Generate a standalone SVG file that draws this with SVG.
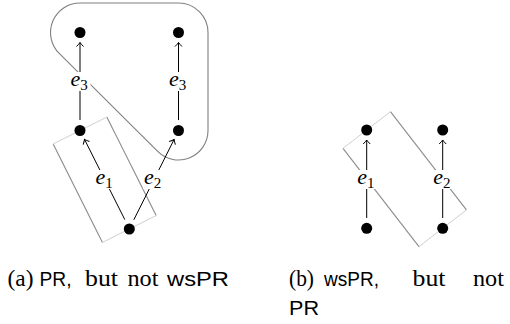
<svg xmlns="http://www.w3.org/2000/svg" width="510" height="324" viewBox="0 0 510 324">
<style>
.dot{fill:#000}
.edge{stroke:#000;stroke-width:1;fill:none;marker-end:url(#arr)}
.hull{stroke:#808080;stroke-width:1.1;fill:none}
.long{stroke:#8c8c8c;stroke-width:1.1}
.short{stroke:#d0d0d0;stroke-width:1}
.lbg{fill:#fff}
.lbl{font-family:"Liberation Serif",serif;font-style:italic;font-size:22px;fill:#000}
.sub{font-family:"Liberation Serif",serif;font-style:normal;font-size:15px}
.cap{font-family:"Liberation Serif",serif;font-size:22.5px;fill:#000}
.sf{font-family:"Liberation Sans",sans-serif;font-size:20px;fill:#000}
</style>
<defs>
<marker id="arr" viewBox="-6 -5 8 10" markerWidth="8" markerHeight="10" refX="0" refY="0" orient="auto" markerUnits="userSpaceOnUse">
<path d="M -4 -3.5 Q -1.5 -1 0 0 Q -1.5 1 -4 3.5" fill="none" stroke="#000" stroke-width="1"/>
</marker>
</defs>

<!-- (a) -->
<g id="hull-a">
<path class="hull" d="M 59.2 53.4 A 29.5 29.5 0 0 1 80 3 L 178.5 3 A 29.5 29.5 0 0 1 208 32.5 L 208 130.5 A 29.5 29.5 0 0 1 157.7 151.4 Z"/>
</g>
<g id="rect-a">
<line class="long" x1="106.83" y1="117.07" x2="156.13" y2="215.57"/>
<line class="long" x1="53.17" y1="143.93" x2="102.47" y2="242.43"/>
<line class="short" x1="53.17" y1="143.93" x2="106.83" y2="117.07"/>
<line class="short" x1="156.13" y1="215.57" x2="102.47" y2="242.43"/>
</g>

<g id="connectors">
<line class="edge" x1="80" y1="120" x2="80" y2="42.5"/>
<line class="edge" x1="178.5" y1="120" x2="178.5" y2="42.5"/>
<line class="edge" x1="124.8" y1="219.6" x2="84.5" y2="139.4"/>
<line class="edge" x1="133.8" y1="219.8" x2="174.1" y2="139.5"/>
<line class="edge" x1="366.7" y1="218" x2="366.7" y2="140"/>
<line class="edge" x1="442.7" y1="218" x2="442.7" y2="140"/>
</g>

<g id="labels">
<rect class="lbg" x="69.5" y="72" width="21" height="19"/>
<text class="lbl" x="70.5" y="85.5">e<tspan class="sub" dy="4">3</tspan></text>
<rect class="lbg" x="168" y="72" width="21" height="19"/>
<text class="lbl" x="169" y="85.5">e<tspan class="sub" dy="4">3</tspan></text>
<rect class="lbg" x="94.5" y="170" width="21" height="19"/>
<text class="lbl" x="95.5" y="183.5">e<tspan class="sub" dy="4">1</tspan></text>
<rect class="lbg" x="143" y="170" width="21" height="19"/>
<text class="lbl" x="144" y="183.5">e<tspan class="sub" dy="4">2</tspan></text>
</g>

<g id="n-a1"><circle class="dot" cx="80" cy="32.5" r="5.5"/></g>
<g id="n-a2"><circle class="dot" cx="178.5" cy="32.5" r="5.5"/></g>
<g id="n-a3"><circle class="dot" cx="80" cy="130.5" r="5.5"/></g>
<g id="n-a4"><circle class="dot" cx="178.5" cy="130.5" r="5.5"/></g>
<g id="n-a5"><circle class="dot" cx="129.3" cy="229" r="5.5"/></g>

<!-- (b) -->
<g id="rect-b">
<line class="long" x1="390.43" y1="111.65" x2="466.43" y2="209.95"/>
<line class="long" x1="342.97" y1="148.35" x2="418.97" y2="246.65"/>
<line class="short" x1="342.97" y1="148.35" x2="390.43" y2="111.65"/>
<line class="short" x1="466.43" y1="209.95" x2="418.97" y2="246.65"/>
</g>
<g id="labels-b">
<rect class="lbg" x="356.2" y="170" width="21" height="19"/>
<text class="lbl" x="357.2" y="183.5">e<tspan class="sub" dy="4">1</tspan></text>
<rect class="lbg" x="432.2" y="170" width="21" height="19"/>
<text class="lbl" x="433.2" y="183.5">e<tspan class="sub" dy="4">2</tspan></text>
</g>
<g id="n-b1"><circle class="dot" cx="366.7" cy="130" r="5.5"/></g>
<g id="n-b2"><circle class="dot" cx="442.7" cy="130" r="5.5"/></g>
<g id="n-b3"><circle class="dot" cx="366.7" cy="228.3" r="5.5"/></g>
<g id="n-b4"><circle class="dot" cx="442.7" cy="228.3" r="5.5"/></g>

<!-- captions -->
<g id="caption-a">
<text class="cap" x="7.5" y="286" textLength="26" lengthAdjust="spacingAndGlyphs">(a)</text>
<text class="sf" x="39.5" y="286" textLength="32" lengthAdjust="spacingAndGlyphs">PR,</text>
<text class="cap" x="85" y="286" textLength="33" lengthAdjust="spacingAndGlyphs">but</text>
<text class="cap" x="127.5" y="286" textLength="31" lengthAdjust="spacingAndGlyphs">not</text>
<text class="sf" x="167" y="286" textLength="62" lengthAdjust="spacingAndGlyphs">wsPR</text>
</g>
<g id="caption-b">
<text class="cap" x="289" y="286" textLength="25" lengthAdjust="spacingAndGlyphs">(b)</text>
<text class="sf" x="324" y="286" textLength="55" lengthAdjust="spacingAndGlyphs">wsPR,</text>
<text class="cap" x="412.5" y="286" textLength="33" lengthAdjust="spacingAndGlyphs">but</text>
<text class="cap" x="473" y="286" textLength="31" lengthAdjust="spacingAndGlyphs">not</text>
<text class="sf" x="289" y="315" textLength="30" lengthAdjust="spacingAndGlyphs">PR</text>
</g>
</svg>
